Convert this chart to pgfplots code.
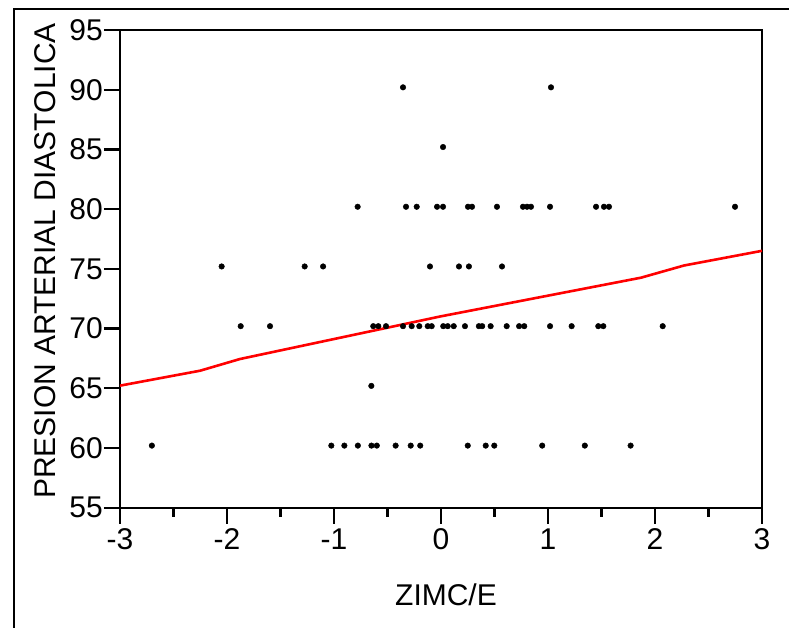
\documentclass[border=0pt]{standalone}
\usepackage{fontspec}
\setmainfont{Liberation Sans}
\usepackage{pgfplots}
\pgfplotsset{compat=1.18}

\begin{document}
\begin{tikzpicture}
\path[use as bounding box] (-120pt,-119.3pt) rectangle (669pt,507.7pt);
% outer frame (left and top edges)
\draw[line width=2pt] (-106pt,-125pt) -- (-106pt,499pt) -- (675pt,499pt);
\begin{axis}[
  scale only axis,
  width=642pt, height=477.7pt,
  xmin=-3, xmax=3, ymin=55, ymax=95,
  axis line style={line width=2.4pt},
  every tick/.style={black, line width=2.4pt},
  tick align=outside,
  major tick length=16pt,
  minor tick length=9pt,
  xtick pos=left, ytick pos=left,
  xtick={-3,-2,-1,0,1,2,3},
  minor xtick={-2.5,-1.5,-0.5,0.5,1.5,2.5},
  ytick={55,60,65,70,75,80,85,90,95},
  xticklabels={-3,-2,-1,0,1,2,3},
  yticklabels={55,60,65,70,75,80,85,90,95},
  tick label style={font=\fontsize{30}{34}\selectfont},
  yticklabel style={anchor=east, inner xsep=1pt},
  xticklabel style={anchor=north, inner ysep=5pt},
  xlabel={ZIMC/E},
  ylabel={PRESION ARTERIAL DIASTOLICA},
  label style={font=\fontsize{30}{34}\selectfont},
  xlabel style={at={(axis description cs:0.5078,-0.1827)}, anchor=center},
  ylabel style={at={(axis description cs:-0.1168,0.5164)}, anchor=center},
]
\addplot[only marks, mark=*, mark size=2.8pt, black] coordinates {
  (-0.355,90.2) (1.028,90.2)
  (0.019,85.2)
  (-0.779,80.2) (-0.327,80.2) (-0.227,80.2) (-0.037,80.2) (0.019,80.2)
  (0.252,80.2) (0.290,80.2) (0.523,80.2) (0.766,80.2) (0.804,80.2)
  (0.841,80.2) (1.019,80.2) (1.449,80.2) (1.523,80.2) (1.570,80.2)
  (2.748,80.2)
  (-2.050,75.2) (-1.274,75.2) (-1.102,75.2) (-0.103,75.2) (0.168,75.2)
  (0.261,75.2) (0.570,75.2)
  (-1.872,70.2) (-1.598,70.2) (-0.633,70.2) (-0.586,70.2) (-0.514,70.2)
  (-0.355,70.2) (-0.274,70.2) (-0.203,70.2) (-0.124,70.2) (-0.087,70.2)
  (0.021,70.2) (0.063,70.2) (0.119,70.2) (0.224,70.2) (0.354,70.2)
  (0.385,70.2) (0.464,70.2) (0.614,70.2) (0.730,70.2) (0.778,70.2)
  (1.019,70.2) (1.221,70.2) (1.470,70.2) (1.517,70.2) (2.072,70.2)
  (-0.651,65.2)
  (-2.702,60.2) (-1.025,60.2) (-0.903,60.2) (-0.777,60.2) (-0.650,60.2)
  (-0.600,60.2) (-0.424,60.2) (-0.283,60.2) (-0.194,60.2) (0.250,60.2)
  (0.418,60.2) (0.498,60.2) (0.946,60.2) (1.344,60.2) (1.772,60.2)
};
\addplot[red, line width=2.6pt] coordinates {
  (-3,65.22) (-2.252,66.47) (-1.879,67.45) (-0.009,71.01)
  (1.869,74.26) (2.271,75.28) (3,76.51)
};
\end{axis}
\end{tikzpicture}
\end{document}
